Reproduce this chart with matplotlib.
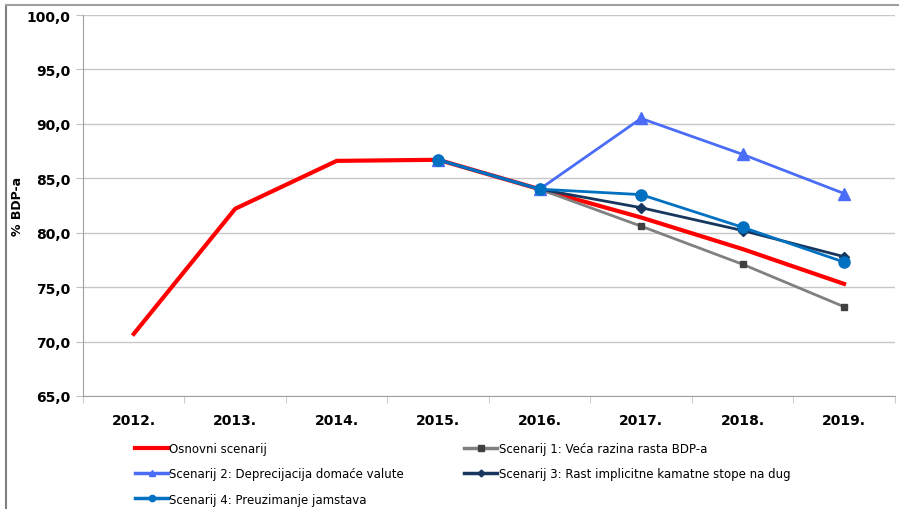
import matplotlib.pyplot as plt
from matplotlib.lines import Line2D

years = ['2012.', '2013.', '2014.', '2015.', '2016.', '2017.', '2018.', '2019.']

osnovni = [70.7, 82.2, 86.6, 86.7, 84.0, 81.4, 78.5, 75.3]
# scenarios start in 2015
scen1 = [86.7, 84.0, 80.6, 77.1, 73.2]
scen2 = [86.7, 84.0, 90.5, 87.2, 83.6]
scen3 = [86.7, 84.0, 82.3, 80.2, 77.8]
scen4 = [86.7, 84.0, 83.5, 80.5, 77.3]

labels = ['Osnovni scenarij',
          'Scenarij 1: Veća razina rasta BDP-a',
          'Scenarij 2: Deprecijacija domaće valute',
          'Scenarij 3: Rast implicitne kamatne stope na dug',
          'Scenarij 4: Preuzimanje jamstava']

x_all = list(range(len(years)))
x_sc = x_all[3:]

fig = plt.figure(figsize=(8.99, 5.10), dpi=100)
ax = fig.add_axes((0.0923, 0.2216, 0.903, 0.747))

l1, = ax.plot(x_sc, scen1, color='#808080', lw=2, marker='s', ms=5,
              mfc='#404040', mec='#404040', zorder=3)
l2, = ax.plot(x_sc, scen2, color='#4a6cf7', lw=2, marker='^', ms=8,
              zorder=3)
l3, = ax.plot(x_sc, scen3, color='#17375e', lw=2, marker='D', ms=5,
              zorder=4)
l4, = ax.plot(x_sc, scen4, color='#0070c0', lw=2, marker='o', ms=8,
              zorder=5)
l0, = ax.plot(x_all, osnovni, color='#ff0000', lw=3, zorder=2)

ax.set_xlim(-0.5, len(years) - 0.5)
ax.set_ylim(65, 100)
ax.set_yticks(range(65, 101, 5))
ax.set_yticklabels([f'{v},0' for v in range(65, 101, 5)],
                   fontsize=10, fontweight='bold')
ax.set_xticks(x_all)
ax.set_xticklabels(years, fontsize=10, fontweight='bold')
ax.set_xticks([i - 0.5 for i in range(len(years) + 1)], minor=True)
ax.tick_params(axis='x', which='major', length=0, pad=12)
ax.tick_params(axis='x', which='minor', length=5, color='#c0c0c0')
ax.tick_params(axis='y', length=5, color='#c0c0c0', pad=4)

ax.grid(axis='y', color='#c8c8c8', lw=1)
ax.set_axisbelow(True)
for s in ['top', 'right']:
    ax.spines[s].set_visible(False)
for s in ['left', 'bottom']:
    ax.spines[s].set_color('#a0a0a0')
ax.set_ylabel('% BDP-a', fontsize=9, fontweight='bold', labelpad=2)

# legend filled column-wise: left column then right column
handles = [Line2D([], [], color='#ff0000', lw=3),
           Line2D([], [], color='#4a6cf7', lw=2.5, marker='^', ms=5),
           Line2D([], [], color='#0070c0', lw=2.5, marker='o', ms=4.5),
           Line2D([], [], color='#808080', lw=2.5, marker='s', ms=4.5,
                  mfc='#404040', mec='#404040'),
           Line2D([], [], color='#17375e', lw=2.5, marker='D', ms=3.5)]
leg_labels = [labels[0], labels[2], labels[4], labels[1], labels[3]]
fig.legend(handles, leg_labels, loc='upper left',
           bbox_to_anchor=(0.145, 0.141), ncol=2, frameon=False,
           fontsize=8.5, handlelength=2.8, handletextpad=0.1,
           columnspacing=5.1, labelspacing=1.05, borderaxespad=0)

# frame lines around the figure
fig.add_artist(Line2D([0.007, 0.007], [0, 0.988], color='#808080', lw=1.5,
                      transform=fig.transFigure))
fig.add_artist(Line2D([0.007, 0.999], [0.988, 0.988], color='#a0a0a0', lw=1.5,
                      transform=fig.transFigure))

fig.savefig('out.png', dpi=100)
